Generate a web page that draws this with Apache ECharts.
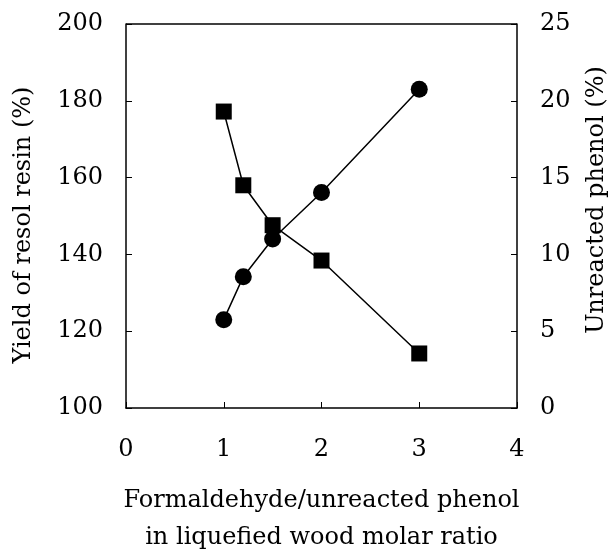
<!DOCTYPE html>
<html>
<head>
<meta charset="utf-8">
<script src="https://cdn.jsdelivr.net/npm/echarts@6/dist/echarts.min.js"></script>
<style>
  html, body { margin: 0; padding: 0; background: #fff; }
  #chart { width: 616px; height: 551px; }
</style>
</head>
<body>
<div id="chart"></div>
<script>
// molar ratio (x)
var ratio = [1, 1.2, 1.5, 2, 3];
// yield of resol resin (%), circles, left axis
var yieldResin = [123, 134.2, 144, 156.1, 183];
// unreacted phenol (%), squares, right axis
var unreactedPhenol = [19.3, 14.5, 11.9, 9.6, 3.55];

var xTicks = [0, 1, 2, 3, 4];
var leftTicks = [100, 120, 140, 160, 180, 200];
var rightTicks = [0, 5, 10, 15, 20, 25];

var font = 'DejaVu Serif';

function pairs(xs, ys) {
  return xs.map(function (x, i) { return [x, ys[i]]; });
}

var chart = echarts.init(document.getElementById('chart'), null, { renderer: 'canvas' });

var option = {
  backgroundColor: '#fff',
  animation: false,
  grid: {
    left: 126,
    right: 99,
    top: 24,
    bottom: 143,
    outerBoundsMode: 'none'
  },
  xAxis: {
    type: 'value',
    min: xTicks[0],
    max: xTicks[xTicks.length - 1],
    interval: 1,
    name: 'Formaldehyde/unreacted phenol\nin liquefied wood molar ratio',
    nameLocation: 'middle',
    nameGap: 74,
    nameTextStyle: { fontFamily: font, fontSize: 24, color: '#000', lineHeight: 37 },
    axisLine: { show: true, onZero: false, lineStyle: { color: '#000', width: 1.5 } },
    axisTick: { show: true, inside: true, length: 6, lineStyle: { color: '#000' } },
    axisLabel: { fontFamily: font, fontSize: 24, color: '#000', margin: 30 },
    splitLine: { show: false }
  },
  yAxis: [
    {
      type: 'value',
      min: leftTicks[0],
      max: leftTicks[leftTicks.length - 1],
      interval: 20,
      name: 'Yield of resol resin (%)',
      nameLocation: 'middle',
      nameGap: 90,
      nameTextStyle: { fontFamily: font, fontSize: 24, color: '#000', padding: [0, 18, 0, 0] },
      axisLine: { show: true, lineStyle: { color: '#000', width: 1.5 } },
      axisTick: { show: true, inside: true, length: 6, lineStyle: { color: '#000' } },
      axisLabel: { fontFamily: font, fontSize: 24, color: '#000', margin: 23 },
      splitLine: { show: false }
    },
    {
      type: 'value',
      position: 'right',
      min: rightTicks[0],
      max: rightTicks[rightTicks.length - 1],
      interval: 5,
      name: 'Unreacted phenol (%)',
      nameLocation: 'middle',
      nameGap: 68,
      nameTextStyle: { fontFamily: font, fontSize: 24, color: '#000', padding: [0, 0, 0, 32] },
      axisLine: { show: true, lineStyle: { color: '#000', width: 1.5 } },
      axisTick: { show: true, inside: true, length: 6, lineStyle: { color: '#000' } },
      axisLabel: { fontFamily: font, fontSize: 24, color: '#000', margin: 23 },
      splitLine: { show: false }
    }
  ],
  series: [
    {
      name: 'yield',
      type: 'line',
      yAxisIndex: 0,
      data: pairs(ratio, yieldResin),
      symbol: 'circle',
      symbolSize: 17,
      itemStyle: { color: '#000' },
      lineStyle: { color: '#000', width: 1.5 }
    },
    {
      name: 'phenol',
      type: 'line',
      yAxisIndex: 1,
      data: pairs(ratio, unreactedPhenol),
      symbol: 'rect',
      symbolSize: 16,
      itemStyle: { color: '#000' },
      lineStyle: { color: '#000', width: 1.5 }
    }
  ]
};

chart.setOption(option);

// top edge of the box, taken from the grid rect
var rect = chart.getModel().getComponent('grid', 0).coordinateSystem.getRect();
chart.setOption({
  graphic: [{
    type: 'line',
    shape: { x1: rect.x, y1: rect.y, x2: rect.x + rect.width, y2: rect.y },
    style: { stroke: '#000', lineWidth: 1.5 }
  }]
});
</script>
</body>
</html>
